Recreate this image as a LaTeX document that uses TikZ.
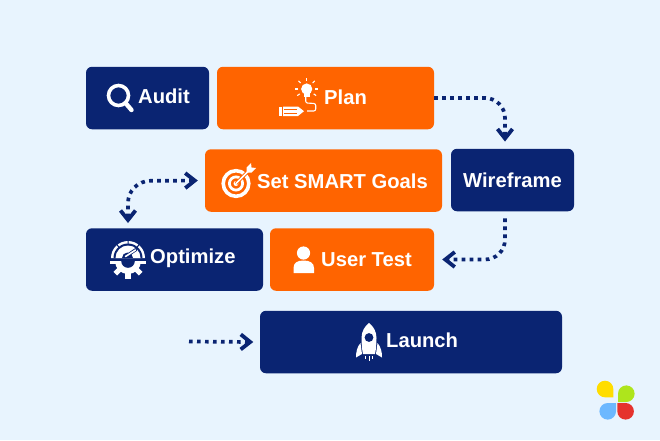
\documentclass[tikz,border=0pt]{standalone}
\usepackage{fontspec}
\setmainfont{Liberation Sans}
\usetikzlibrary{arrows.meta,calc}
\definecolor{bgc}{HTML}{E8F4FE}
\definecolor{navy}{HTML}{0A2472}
\definecolor{orng}{HTML}{FF6400}
\definecolor{ply}{HTML}{FFDD00}
\definecolor{plg}{HTML}{AEE51C}
\definecolor{plb}{HTML}{6CB8FF}
\definecolor{plr}{HTML}{E5322D}
\tikzset{
  box/.style={rounded corners=6pt,minimum height=62.5pt,inner sep=0pt,draw=none},
  navybox/.style={box,fill=navy},
  orngbox/.style={box,fill=orng},
  lbl/.style={text=white,font=\fontsize{20.2}{24}\selectfont\bfseries,inner sep=0pt,anchor=west},
  flow/.style={navy,line width=3.7pt,dash pattern=on 3.7pt off 4.3pt},
  barb/.tip={Straight Barb[length=9.5pt,width=15pt,line width=3.8pt]},
}
\begin{document}
\begin{tikzpicture}[x=1pt,y=-1pt]
\useasboundingbox (0,0) rectangle (660,440);
\fill[bgc] (0,0) rectangle (660,440);
% boxes
\node[navybox,minimum width=123pt] (audit) at (147.5,98) {};
\node[orngbox,minimum width=217pt] (plan) at (325.5,98) {};
\node[orngbox,minimum width=237pt] (goals) at (323.5,180.5) {};
\node[navybox,minimum width=123pt] (wire) at (512.5,180) {};
\node[navybox,minimum width=177pt] (opt) at (174.5,259.5) {};
\node[orngbox,minimum width=164pt] (test) at (352,259.5) {};
\node[navybox,minimum width=302pt] (launch) at (411,342) {};
% labels
\node[lbl] (tAudit) at (138,96) {Audit};
\node[lbl] (tPlan) at (324,97.5) {Plan};
\node[lbl] (tGoals) at (257,181) {Set SMART Goals};
\node[lbl,anchor=center] (tWire) at (512.5,180) {Wireframe};
\node[lbl] (tOpt) at (150,258.5) {Optimize};
\node[lbl] (tTest) at (321,260) {User Test};
\node[lbl] (tLaunch) at (386,340) {Launch};
% connectors
\coordinate (c1) at (505,98);
\coordinate (c2) at (505,259.5);
\coordinate (c3) at (128,181);
\coordinate (launchstart) at (189,341.5);
\draw[flow,-barb,rounded corners=20pt] (plan.east) -- (c1) -- ([xshift=-7.5pt,yshift=7pt]wire.north);
\draw[flow,-barb,rounded corners=20pt] ([xshift=-7.5pt,yshift=-7pt]wire.south) -- (c2) -- ([xshift=8pt]test.east);
\draw[flow,barb-barb,rounded corners=22pt] ([xshift=-7pt]goals.west) -- (c3) -- ([xshift=-46.5pt,yshift=5pt]opt.north);
\draw[flow,-barb] (launchstart) -- ([xshift=-6.5pt]launch.west);
% magnifier
\draw[white,line width=3.6pt] (118.5,95.5) circle (10pt);
\draw[white,line width=4.4pt,line cap=round] (125.5,103) -- (131.5,110);
% bulb
\fill[white] (306.7,89) circle (5.6pt);
\fill[white] (303.5,92) rectangle (309.9,96.5);
\foreach \a in {0,45,90,135,180,215,325}{
  \draw[white,line width=1.1pt] (306.7,89) ++(\a:8.5pt) -- ++(\a:3pt);}
\draw[white,line width=1.1pt,rounded corners=2pt] (305.7,97) -- (305.7,103) -- (315.7,103.5) -- (315.7,111) -- (307,111);
\fill[white] (279,106.5) rectangle (281.5,116);
\fill[white] (283,106.5) -- (298,106.5) -- (304,111.2) -- (298,116) -- (283,116) -- cycle;
\draw[orng,line width=.8pt] (284,109.7) -- (297,109.7) (284,112.9) -- (297,112.9);
% target
\draw[white,line width=3.6pt] (236,183.5) circle (12.8pt);
\draw[white,line width=2.8pt] (236,183.5) circle (6.6pt);
\fill[white] (236,183.5) circle (2.5pt);
\draw[orng,line width=3.4pt] (236,183.5) -- (250,169.5);
\draw[white,line width=1.5pt] (236,183.5) -- (249,170.5);
\fill[white] (246.5,172.5) -- (246.5,167.5) -- (251,163) -- (251.5,167.5) -- (256,168) -- (251.5,172.5) -- cycle;
% gauge
\fill[white] (111,258) arc (180:0:17pt) -- cycle;
\fill[navy] (113.5,258) arc (180:0:14.5pt) -- cycle;
\fill[white] (115.5,258) arc (180:0:12.5pt) -- cycle;
\fill[navy] (122,258) arc (180:0:5.5pt) -- cycle;
\draw[navy,line width=1pt] (128,240) -- (128,245) (117,244.5) -- (119,247.5) (139,244.5) -- (137,247.5);
\draw[navy,line width=3.2pt,line cap=round] (125,257) -- (136,249.5);
\draw[white,line width=1.6pt,line cap=round] (125.5,256.5) -- (135.5,250);
% gear (lower half)
\begin{scope}
\clip (105,261) rectangle (151,285);
\fill[white] (128,261) circle (13pt);
\foreach \a in {0,45,...,315}{\fill[white,rotate around={\a:(128,261)}] (125.4,243) rectangle (130.6,250);}
\fill[navy] (128,261) circle (6.8pt);
\end{scope}
% user
\fill[white] (303.5,253) circle (6.6pt);
\fill[white] (293.5,273) -- (293.5,268) .. controls (293.5,263) and (297,260.5) .. (303.5,260.5) .. controls (310,260.5) and (314,263) .. (314,268) -- (314,273) -- cycle;
% rocket
\fill[white] (369,323) .. controls (373,326) and (376.5,331) .. (376.5,338) .. controls (376.5,343) and (376,350) .. (375,354) -- (363,354) .. controls (362,350) and (361.5,343) .. (361.5,338) .. controls (361.5,331) and (365,326) .. (369,323) -- cycle;
\fill[navy] (369,337.5) circle (4.4pt);
\fill[white] (360.5,343) .. controls (357,347) and (356,352) .. (356,357.5) -- (362,354) -- cycle;
\fill[white] (377.5,343) .. controls (381,347) and (382,352) .. (382,357.5) -- (376,354) -- cycle;
\draw[white,line width=.9pt] (369,356) -- (369,361) (365.5,356) -- (365.5,359) (372.5,356) -- (372.5,359);
% logo
\fill[ply] (613.3,397.3) -- (605,397.3) arc (270:0:8.3pt) -- cycle;
\fill[plg] (618,402) -- (618,393.7) arc (180:-90:8.3pt) -- cycle;
\fill[plb] (616,403) -- (616,411.3) arc (0:-270:8.3pt) -- cycle;
\fill[plr] (617.3,403) -- (625.6,403) arc (90:-180:8.3pt) -- cycle;
\end{tikzpicture}
\end{document}
